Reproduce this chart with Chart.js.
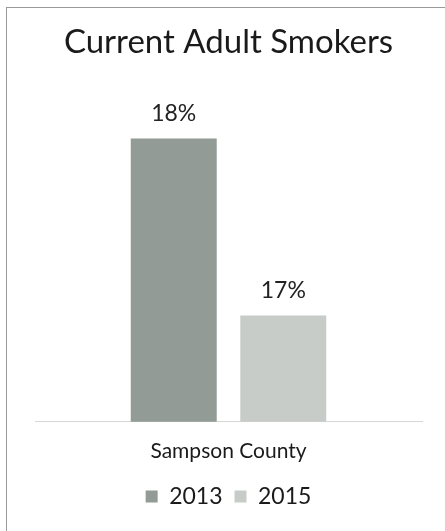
<!DOCTYPE html>
<html>
<head>
<meta charset="utf-8">
<script src="https://cdn.jsdelivr.net/npm/chart.js@4/dist/chart.umd.min.js"></script>
<style>
    html, body { margin: 0; padding: 0; background: #fff; }
    #wrap { position: relative; width: 445px; height: 531px; }
    #frame {
        position: absolute; left: 6px; top: 7px; right: 0; bottom: 0;
        border-left: 1px solid #9a9a9a; border-top: 1px solid #9a9a9a;
        pointer-events: none;
    }
</style>
</head>
<body>
<div id="wrap">
    <canvas id="smokersChart" width="445" height="531"></canvas>
    <div id="frame"></div>
</div>
<script>
(function() {
    'use strict';

    // ── Data ─────────────────────────────────────────────
    const categories = ['Sampson County'];
    const years = ['2013', '2015'];
    const smokers2013 = [18];
    const smokers2015 = [17];
    const barColors = ['#929b95', '#c8ccc9'];

    const FONT = "'Lato', 'Open Sans', sans-serif";

    // Value labels drawn above each bar
    const valueLabels = {
        id: 'valueLabels',
        afterDatasetsDraw(chart) {
            const ctx = chart.ctx;
            ctx.save();
            ctx.font = '23px ' + FONT;
            ctx.fillStyle = '#222';
            ctx.textAlign = 'center';
            ctx.textBaseline = 'bottom';
            chart.data.datasets.forEach((ds, i) => {
                chart.getDatasetMeta(i).data.forEach((bar, j) => {
                    ctx.fillText(ds.data[j] + '%', bar.x, bar.y - 13);
                });
            });
            ctx.restore();
        }
    };

    new Chart(document.getElementById('smokersChart'), {
        type: 'bar',
        data: {
            labels: categories,
            datasets: [
                { label: years[0], data: smokers2013, backgroundColor: barColors[0] },
                { label: years[1], data: smokers2015, backgroundColor: barColors[1] }
            ]
        },
        options: {
            responsive: false,
            animation: false,
            layout: { padding: { left: 35, right: 23, top: 0, bottom: 13 } },
            datasets: {
                bar: { categoryPercentage: 0.566, barPercentage: 0.785 }
            },
            plugins: {
                title: {
                    display: true,
                    text: 'Current Adult Smokers',
                    color: '#1a1a1a',
                    font: { family: FONT, size: 33, weight: 'normal' },
                    padding: { top: 23, bottom: 40.4 }
                },
                legend: {
                    position: 'bottom',
                    labels: {
                        color: '#1a1a1a',
                        font: { family: FONT, size: 23 },
                        boxWidth: 12,
                        boxHeight: 12,
                        padding: 12
                    }
                },
                tooltip: { enabled: false }
            },
            scales: {
                x: {
                    grid: { display: false },
                    border: { color: '#d6d6d6', width: 1 },
                    ticks: {
                        color: '#1a1a1a',
                        font: { family: FONT, size: 21 },
                        padding: 9
                    }
                },
                y: {
                    display: false,
                    min: 16.4,
                    max: 18.2
                }
            }
        },
        plugins: [valueLabels]
    });
})();
</script>
</body>
</html>
